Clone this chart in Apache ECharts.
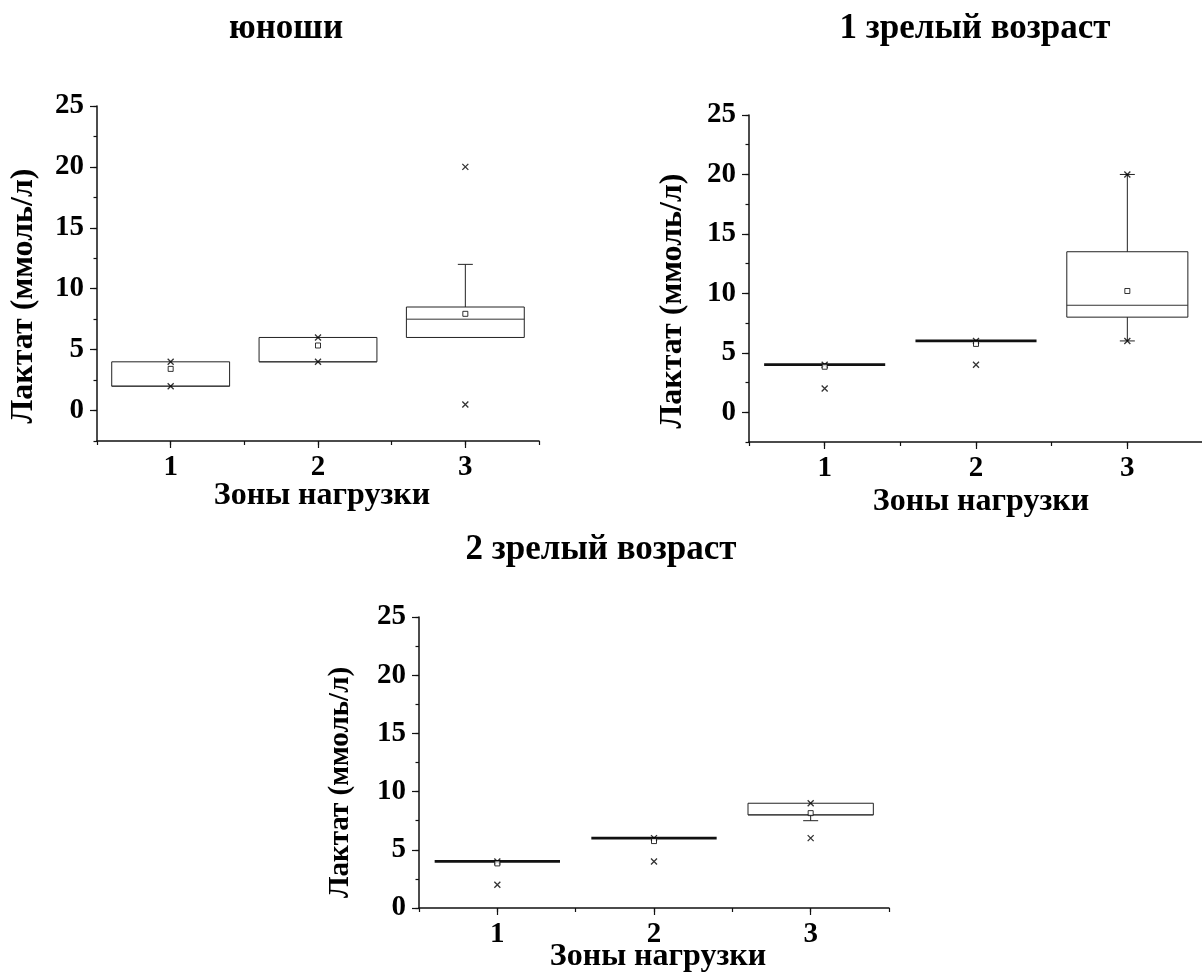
<!DOCTYPE html>
<html>
<head>
<meta charset="utf-8">
<script src="https://cdn.jsdelivr.net/npm/echarts@6/dist/echarts.min.js"></script>
<style>
html, body { margin: 0; padding: 0; background: #ffffff; }
#chart { width: 1202px; height: 972px; }
</style>
</head>
<body>
<div id="chart"></div>
<script>
// ---------- data ----------
const panelTitles = ['юноши', '1 зрелый возраст', '2 зрелый возраст'];
const xAxisTitle = 'Зоны нагрузки';
const yAxisTitle = 'Лактат (ммоль/л)';
const zones = ['1', '2', '3'];
const zoneValues = [1, 2, 3];
const yTickValues = [0, 5, 10, 15, 20, 25];
const yMins = [-2.5, -2.5, 0];
const yMax = 25;

// [lower whisker, Q1, median, Q3, upper whisker]
const youthBoxes = [[2, 2, 2, 4, 4], [4, 4, 4, 6, 6], [6, 6, 7.5, 8.5, 12]];
const youthMeans = [3.42, 5.34, 7.94];
const youthExtremes = [[2, 4], [4, 6], [0.5, 20]];

const mature1Boxes = [[4, 4, 4, 4, 4], [6, 6, 6, 6, 6], [6, 8, 9, 13.5, 20]];
const mature1Means = [3.83, 5.75, 10.2];
const mature1Extremes = [[2, 4], [4, 6], [6, 20]];

const mature2Boxes = [[4, 4, 4, 4, 4], [6, 6, 6, 6, 6], [7.5, 8, 8, 9, 9]];
const mature2Means = [3.83, 5.75, 8.15];
const mature2Extremes = [[2, 4], [4, 6], [6, 9]];

// ---------- layout / style ----------
const FONT = '"Liberation Serif", "Times New Roman", serif';
const INK = '#111';
const panels = [
  { boxes: youthBoxes, means: youthMeans, extremes: youthExtremes,
    grid: { left: 97, top: 106, width: 442, height: 335 },
    title: { x: 286, y: 11 }, xNameGap: 39, xShift: 8, yNameGap: 57, yShift: 45, yNameSize: 32 },
  { boxes: mature1Boxes, means: mature1Means, extremes: mature1Extremes,
    grid: { left: 749, top: 115, width: 454, height: 327 },
    title: { x: 975, y: 11 }, xNameGap: 44, xShift: 10, yNameGap: 60, yShift: 45, yNameSize: 32 },
  { boxes: mature2Boxes, means: mature2Means, extremes: mature2Extremes,
    grid: { left: 419, top: 617, width: 470, height: 291 },
    title: { x: 601, y: 532 }, xNameGap: 33, xShift: 8, yNameGap: 64, yShift: 40, yNameSize: 29 }
];

const BOX_WIDTH = 0.8;   // in category units
const CAP_HALF = 7.5;    // px

function renderBox(params, api) {
  const x = api.value(0);
  const lo = api.value(1), q1 = api.value(2), med = api.value(3), q3 = api.value(4), hi = api.value(5);
  const cx = api.coord([x, q1])[0];
  const yq1 = api.coord([x, q1])[1];
  const yq3 = api.coord([x, q3])[1];
  const ymed = api.coord([x, med])[1];
  const ylo = api.coord([x, lo])[1];
  const yhi = api.coord([x, hi])[1];
  const half = api.size([BOX_WIDTH, 0])[0] / 2;
  const children = [];
  const thin = { stroke: '#222', lineWidth: 1, fill: null };
  if (Math.abs(yq1 - yq3) < 0.5) {
    children.push({ type: 'line', shape: { x1: cx - half, y1: yq1, x2: cx + half, y2: yq1 },
      style: { stroke: '#111', lineWidth: 2.8 } });
  } else {
    children.push({ type: 'rect', shape: { x: cx - half, y: yq3, width: half * 2, height: yq1 - yq3 },
      style: thin });
    children.push({ type: 'line', shape: { x1: cx - half, y1: ymed, x2: cx + half, y2: ymed },
      style: { stroke: '#333', lineWidth: 1 } });
  }
  if (hi > q3) {
    children.push({ type: 'line', shape: { x1: cx, y1: yq3, x2: cx, y2: yhi }, style: thin });
    children.push({ type: 'line', shape: { x1: cx - CAP_HALF, y1: yhi, x2: cx + CAP_HALF, y2: yhi }, style: thin });
  }
  if (lo < q1) {
    children.push({ type: 'line', shape: { x1: cx, y1: yq1, x2: cx, y2: ylo }, style: thin });
    children.push({ type: 'line', shape: { x1: cx - CAP_HALF, y1: ylo, x2: cx + CAP_HALF, y2: ylo }, style: thin });
  }
  return { type: 'group', children: children };
}

const option = {
  backgroundColor: '#ffffff',
  animation: false,
  title: [], grid: [], xAxis: [], yAxis: [], series: []
};

panels.forEach(function (p, i) {
  option.title.push({
    text: panelTitles[i], left: p.title.x, top: p.title.y, textAlign: 'center', padding: 0,
    textStyle: { fontFamily: FONT, fontWeight: 'bold', fontSize: 35, color: '#000' }
  });
  option.grid.push(Object.assign({ containLabel: false, outerBoundsMode: 'none' }, p.grid));

  // x axis: line + short ticks every 0.5
  option.xAxis.push({
    type: 'value', gridIndex: i, min: 0.5, max: 3.5, interval: 0.5, position: 'bottom',
    axisLine: { show: true, onZero: false, lineStyle: { color: INK, width: 1.5 } },
    axisTick: { show: true, length: 4, lineStyle: { color: INK, width: 1.2 } },
    axisLabel: { show: false }, splitLine: { show: false }
  });
  // x axis: long ticks + labels at zones
  option.xAxis.push({
    type: 'value', gridIndex: i, min: 0.5, max: 3.5, position: 'bottom',
    axisLine: { show: false, onZero: false },
    axisTick: { show: true, length: 7, customValues: zoneValues, lineStyle: { color: INK, width: 1.2 } },
    axisLabel: {
      show: true, customValues: zoneValues, margin: 12,
      formatter: function (v) { return zones[zoneValues.indexOf(v)]; },
      fontFamily: FONT, fontWeight: 'bold', fontSize: 29, color: '#000'
    },
    splitLine: { show: false },
    name: xAxisTitle, nameLocation: 'middle', nameGap: p.xNameGap, nameMoveOverlap: false,
    nameTextStyle: { fontFamily: FONT, fontWeight: 'bold', fontSize: 32, color: '#000',
      padding: [0, 0, 0, p.xShift] }
  });

  // y axis: line + short ticks every 2.5
  option.yAxis.push({
    type: 'value', gridIndex: i, min: yMins[i], max: yMax, interval: 2.5, position: 'left',
    axisLine: { show: true, onZero: false, lineStyle: { color: INK, width: 1.5 } },
    axisTick: { show: true, length: 3.5, lineStyle: { color: INK, width: 1.2 } },
    axisLabel: { show: false }, splitLine: { show: false }
  });
  // y axis: long ticks + labels
  option.yAxis.push({
    type: 'value', gridIndex: i, min: yMins[i], max: yMax, position: 'left',
    axisLine: { show: false, onZero: false },
    axisTick: { show: true, length: 7, customValues: yTickValues, lineStyle: { color: INK, width: 1.2 } },
    axisLabel: {
      show: true, customValues: yTickValues, margin: 13,
      fontFamily: FONT, fontWeight: 'bold', fontSize: 29, color: '#000'
    },
    splitLine: { show: false },
    name: yAxisTitle, nameLocation: 'middle', nameGap: p.yNameGap, nameMoveOverlap: false,
    nameTextStyle: { fontFamily: FONT, fontWeight: 'bold', fontSize: p.yNameSize, color: '#000',
      padding: [0, p.yShift, 0, 0] }
  });

  const xi = i * 2, yi = i * 2;
  option.series.push({
    type: 'custom', xAxisIndex: xi, yAxisIndex: yi, renderItem: renderBox,
    encode: { x: 0, y: [1, 2, 3, 4, 5] },
    data: zoneValues.map(function (z, k) { return [z].concat(p.boxes[k]); }),
    z: 2
  });
  option.series.push({
    type: 'scatter', xAxisIndex: xi, yAxisIndex: yi,
    symbol: 'path://M0,0L10,10M10,0L0,10', symbolSize: 6,
    itemStyle: { color: 'none', borderColor: '#000', borderWidth: 1.3 },
    data: zoneValues.reduce(function (acc, z, k) {
      acc.push([z, p.extremes[k][0]]); acc.push([z, p.extremes[k][1]]); return acc;
    }, []),
    z: 3
  });
  option.series.push({
    type: 'scatter', xAxisIndex: xi, yAxisIndex: yi,
    symbol: 'rect', symbolSize: 5,
    itemStyle: { color: '#fff', borderColor: '#000', borderWidth: 1 },
    data: zoneValues.map(function (z, k) { return [z, p.means[k]]; }),
    z: 4
  });
});

const chart = echarts.init(document.getElementById('chart'), null, { renderer: 'canvas' });
chart.setOption(option);
</script>
</body>
</html>
